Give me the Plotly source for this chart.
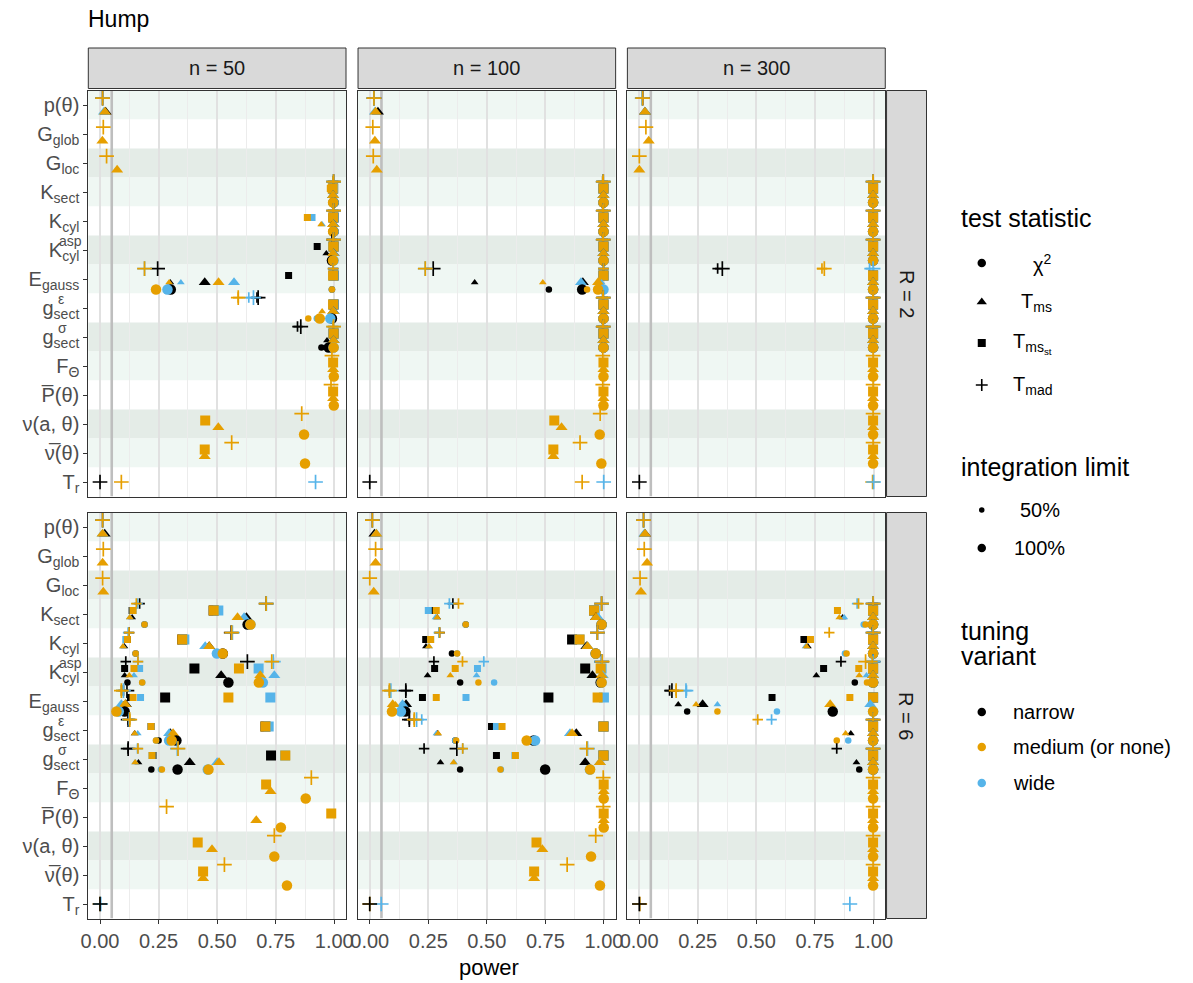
import plotly.graph_objects as go

W, H = 1193, 983
_ = None

# ---- categories -------------------------------------------------------------
STATS = ["p", "Gglob", "Gloc", "Ksect", "Kcyl", "Kasp", "Egauss",
         "geps", "gsig", "F", "Pbar", "nu", "nubar", "Tr"]
STAT_TICKTEXT = ["p(θ)", "G<sub>glob</sub>", "G<sub>loc</sub>", "K<sub>sect</sub>",
                 "K<sub>cyl</sub>", "K<sub>cyl</sub>", "E<sub>gauss</sub>",
                 "g<sub>sect</sub>", "g<sub>sect</sub>", "F<sub>Θ</sub>",
                 "P\u0305(θ)", "ν(a, θ)", "ν\u0305(θ)", "T<sub>r</sub>"]
# superscripts stacked over the subscripts: text, x position (px), anchor
STAT_SUPER = {"Kasp": ("asp", 77, "right"), "geps": ("ε", 49, "left"),
              "gsig": ("σ", 49, "left")}

TESTS_TOP_TO_BOTTOM = ["Tmad", "Tmsst", "Tms", "chi2"]
TEST_SYMBOL = {"chi2": "circle", "Tms": "triangle-up", "Tmsst": "square", "Tmad": "cross-thin"}
TUNING_COLOR = {"narrow": "#000000", "medium": "#E69F00", "wide": "#56B4E9"}
N_VALUES = [50, 100, 300]
R_VALUES = [2, 6]

# ---- power values -----------------------------------------------------------
# columns: stat, test, narrow/medium/wide at 50 %, narrow/medium/wide at 100 %
R2_N50 = [
    ("p", "Tmad", _, _, _, .011, .011, .011),
    ("p", "Tms", _, _, _, .024, .021, .017),
    ("Gglob", "Tmad", _, _, _, _, .014, _),
    ("Gglob", "Tms", _, _, _, _, .010, _),
    ("Gloc", "Tmad", _, _, _, _, .028, _),
    ("Gloc", "Tms", _, _, _, _, .073, _),
    ("Ksect", "Tmad", .995, .995, .995, .997, .997, .997),
    ("Ksect", "Tmsst", .985, .983, .990, .995, .993, .995),
    ("Ksect", "Tms", .990, .990, .990, .995, .995, .995),
    ("Ksect", "chi2", .990, .990, .990, .997, .995, .997),
    ("Kcyl", "Tmad", .995, .995, .995, .997, .997, .997),
    ("Kcyl", "Tmsst", .990, .885, .905, .997, .995, .997),
    ("Kcyl", "Tms", .990, .944, .948, .997, .995, .997),
    ("Kcyl", "chi2", .990, .990, .990, .997, .995, .997),
    ("Kasp", "Tmad", .990, .995, .995, .997, .997, .997),
    ("Kasp", "Tmsst", .927, .990, .990, .997, .997, .997),
    ("Kasp", "Tms", .966, .990, .990, .997, .995, .997),
    ("Kasp", "chi2", .985, .990, .990, .990, .995, .997),
    ("Egauss", "Tmad", .995, .995, .995, .246, .190, .190),
    ("Egauss", "Tmsst", .805, .995, .995, .997, .995, .997),
    ("Egauss", "Tms", .300, .295, .345, .447, .506, .572),
    ("Egauss", "chi2", .990, .990, .990, .302, .239, .288),
    ("geps", "Tmad", .670, .590, .635, .675, .590, .655),
    ("geps", "Tmsst", .995, .995, .995, .997, .995, .997),
    ("geps", "Tms", .990, .948, .990, .997, .995, .997),
    ("geps", "chi2", .990, .889, .925, .990, .938, .983),
    ("gsig", "Tmad", .843, .995, .995, .857, .997, .997),
    ("gsig", "Tmsst", .995, .995, .995, .997, .997, .997),
    ("gsig", "Tms", .969, .995, .995, .997, .997, .997),
    ("gsig", "chi2", .945, .995, .995, .976, .997, .997),
    ("F", "Tmad", _, _, _, _, .990, _),
    ("F", "Tmsst", _, _, _, _, .995, _),
    ("F", "Tms", _, _, _, _, .995, _),
    ("F", "chi2", _, _, _, _, .998, _),
    ("Pbar", "Tmad", _, _, _, _, .986, _),
    ("Pbar", "Tmsst", _, _, _, _, .995, _),
    ("Pbar", "Tms", _, _, _, _, .995, _),
    ("Pbar", "chi2", _, _, _, _, .998, _),
    ("nu", "Tmad", _, _, _, _, .861, _),
    ("nu", "Tmsst", _, _, _, _, .449, _),
    ("nu", "Tms", _, _, _, _, .505, _),
    ("nu", "chi2", _, _, _, _, .871, _),
    ("nubar", "Tmad", _, _, _, _, .562, _),
    ("nubar", "Tmsst", _, _, _, _, .447, _),
    ("nubar", "Tms", _, _, _, _, .447, _),
    ("nubar", "chi2", _, _, _, _, .875, _),
    ("Tr", "Tmad", _, _, _, .000, .091, .920),
]

R2_N100 = [
    ("p", "Tmad", _, _, _, .018, .018, .018),
    ("p", "Tms", _, _, _, .035, .025, .022),
    ("Gglob", "Tmad", _, _, _, _, .013, _),
    ("Gglob", "Tms", _, _, _, _, .022, _),
    ("Gloc", "Tmad", _, _, _, _, .015, _),
    ("Gloc", "Tms", _, _, _, _, .030, _),
    ("Ksect", "Tmad", .995, .995, .995, .997, .997, .997),
    ("Ksect", "Tmsst", .998, .998, .998, .998, .998, .998),
    ("Ksect", "Tms", .998, .998, .998, .998, .998, .998),
    ("Ksect", "chi2", .998, .998, .998, .998, .998, .998),
    ("Kcyl", "Tmad", .995, .995, .995, .997, .997, .997),
    ("Kcyl", "Tmsst", .998, .998, .998, .998, .998, .998),
    ("Kcyl", "Tms", .998, .998, .998, .998, .998, .998),
    ("Kcyl", "chi2", .998, .998, .998, .998, .998, .998),
    ("Kasp", "Tmad", .995, .995, .995, .997, .997, .997),
    ("Kasp", "Tmsst", .998, .998, .998, .998, .998, .998),
    ("Kasp", "Tms", .998, .998, .998, .998, .998, .998),
    ("Kasp", "chi2", .998, .998, .998, .998, .998, .998),
    ("Egauss", "Tmad", .998, .998, .998, .271, .237, .237),
    ("Egauss", "Tmsst", .998, .998, .998, .998, .998, .998),
    ("Egauss", "Tms", .448, .739, .990, .910, .975, .902),
    ("Egauss", "chi2", .765, .928, .990, .907, .975, .998),
    ("geps", "Tmad", .995, .995, .995, .997, .997, .997),
    ("geps", "Tmsst", .998, .998, .998, .998, .998, .998),
    ("geps", "Tms", .998, .998, .998, .998, .998, .998),
    ("geps", "chi2", .998, .998, .998, .998, .998, .998),
    ("gsig", "Tmad", .995, .995, .995, .997, .997, .997),
    ("gsig", "Tmsst", .998, .998, .998, .998, .998, .998),
    ("gsig", "Tms", .998, .998, .998, .998, .998, .998),
    ("gsig", "chi2", .998, .998, .998, .998, .998, .998),
    ("F", "Tmad", _, _, _, _, .995, _),
    ("F", "Tmsst", _, _, _, _, .998, _),
    ("F", "Tms", _, _, _, _, .998, _),
    ("F", "chi2", _, _, _, _, .998, _),
    ("Pbar", "Tmad", _, _, _, _, .995, _),
    ("Pbar", "Tmsst", _, _, _, _, .998, _),
    ("Pbar", "Tms", _, _, _, _, .998, _),
    ("Pbar", "chi2", _, _, _, _, .998, _),
    ("nu", "Tmad", _, _, _, _, .984, _),
    ("nu", "Tmsst", _, _, _, _, .788, _),
    ("nu", "Tms", _, _, _, _, .819, _),
    ("nu", "chi2", _, _, _, _, .982, _),
    ("nubar", "Tmad", _, _, _, _, .898, _),
    ("nubar", "Tmsst", _, _, _, _, .784, _),
    ("nubar", "Tms", _, _, _, _, .784, _),
    ("nubar", "chi2", _, _, _, _, .989, _),
    ("Tr", "Tmad", _, _, _, .000, .907, .999),
]

R2_N300 = [
    ("p", "Tmad", _, _, _, .015, .015, .013),
    ("p", "Tms", _, _, _, .025, .025, .025),
    ("Gglob", "Tmad", _, _, _, _, .029, _),
    ("Gglob", "Tms", _, _, _, _, .041, _),
    ("Gloc", "Tmad", _, _, _, _, .001, _),
    ("Gloc", "Tms", _, _, _, _, .001, _),
    ("Ksect", "Tmad", .998, .998, .998, .998, .998, .998),
    ("Ksect", "Tmsst", .998, .998, .998, .998, .998, .998),
    ("Ksect", "Tms", .998, .998, .998, .998, .998, .998),
    ("Ksect", "chi2", .998, .998, .998, .998, .998, .998),
    ("Kcyl", "Tmad", .998, .998, .998, .998, .998, .998),
    ("Kcyl", "Tmsst", .998, .998, .998, .998, .998, .998),
    ("Kcyl", "Tms", .998, .998, .998, .998, .998, .998),
    ("Kcyl", "chi2", .998, .998, .998, .998, .998, .998),
    ("Kasp", "Tmad", .998, .998, .998, .998, .998, .998),
    ("Kasp", "Tmsst", .998, .998, .998, .998, .998, .998),
    ("Kasp", "Tms", .998, .998, .998, .998, .998, .998),
    ("Kasp", "chi2", .998, .998, .998, .998, .998, .998),
    ("Egauss", "Tmad", .335, .780, .983, .355, .790, .998),
    ("Egauss", "Tmsst", .998, .998, .998, .998, .998, .998),
    ("Egauss", "Tms", .998, .998, .998, .998, .998, .998),
    ("Egauss", "chi2", .998, .998, .998, .998, .998, .998),
    ("geps", "Tmad", .998, .998, .998, .998, .998, .998),
    ("geps", "Tmsst", .998, .998, .998, .998, .998, .998),
    ("geps", "Tms", .998, .998, .998, .998, .998, .998),
    ("geps", "chi2", .998, .998, .998, .998, .998, .998),
    ("gsig", "Tmad", .998, .998, .998, .998, .998, .998),
    ("gsig", "Tmsst", .998, .998, .998, .998, .998, .998),
    ("gsig", "Tms", .998, .998, .998, .998, .998, .998),
    ("gsig", "chi2", .998, .998, .998, .998, .998, .998),
    ("F", "Tmad", _, _, _, _, .998, _),
    ("F", "Tmsst", _, _, _, _, .998, _),
    ("F", "Tms", _, _, _, _, .998, _),
    ("F", "chi2", _, _, _, _, .998, _),
    ("Pbar", "Tmad", _, _, _, _, .998, _),
    ("Pbar", "Tmsst", _, _, _, _, .998, _),
    ("Pbar", "Tms", _, _, _, _, .998, _),
    ("Pbar", "chi2", _, _, _, _, .998, _),
    ("nu", "Tmad", _, _, _, _, .998, _),
    ("nu", "Tmsst", _, _, _, _, .998, _),
    ("nu", "Tms", _, _, _, _, .998, _),
    ("nu", "chi2", _, _, _, _, .998, _),
    ("nubar", "Tmad", _, _, _, _, .998, _),
    ("nubar", "Tmsst", _, _, _, _, .998, _),
    ("nubar", "Tms", _, _, _, _, .998, _),
    ("nubar", "chi2", _, _, _, _, .998, _),
    ("Tr", "Tmad", _, _, _, .001, .996, 1.00),
]

R6_N50 = [
    ("p", "Tmad", _, _, _, .011, .011, .011),
    ("p", "Tms", _, _, _, .020, .011, .011),
    ("Gglob", "Tmad", _, _, _, _, .014, _),
    ("Gglob", "Tms", _, _, _, _, .011, _),
    ("Gloc", "Tmad", _, _, _, _, .011, _),
    ("Gloc", "Tms", _, _, _, _, .014, _),
    ("Ksect", "Tmad", .169, .155, .160, .709, .709, .710),
    ("Ksect", "Tmsst", .137, .141, .141, .485, .485, .505),
    ("Ksect", "Tms", .137, .127, .127, .625, .587, .615),
    ("Ksect", "chi2", .190, .190, .190, .630, .642, .642),
    ("Kcyl", "Tmad", .124, .124, .120, .560, .562, .565),
    ("Kcyl", "Tmsst", .117, .117, .110, .351, .351, .360),
    ("Kcyl", "Tms", .104, .098, .098, .466, .466, .449),
    ("Kcyl", "chi2", .152, .152, .152, .524, .524, .499),
    ("Kasp", "Tmad", .110, .162, .162, .629, .733, .740),
    ("Kasp", "Tmsst", .105, .145, .169, .403, .593, .677),
    ("Kasp", "Tms", .105, .125, .145, .517, .684, .744),
    ("Kasp", "chi2", .117, .180, .180, .548, .678, .695),
    ("Egauss", "Tmad", .100, .091, .091, .115, .091, .100),
    ("Egauss", "Tmsst", .130, .141, .173, .278, .548, .727),
    ("Egauss", "Tms", .100, .100, .090, .110, .108, .091),
    ("Egauss", "chi2", .105, .070, .080, .105, .070, .080),
    ("geps", "Tmad", .120, .127, .125, .120, .127, .125),
    ("geps", "Tmsst", .218, .218, .218, .706, .706, .720),
    ("geps", "Tms", .148, .148, .161, .300, .312, .295),
    ("geps", "chi2", .250, .239, .239, .326, .306, .295),
    ("gsig", "Tmad", .120, .162, .160, .120, .333, .330),
    ("gsig", "Tmsst", .226, .222, .222, .730, .791, .790),
    ("gsig", "Tms", .164, .150, .150, .383, .508, .500),
    ("gsig", "chi2", .219, .264, .260, .331, .463, .460),
    ("F", "Tmad", _, _, _, _, .902, _),
    ("F", "Tmsst", _, _, _, _, .709, _),
    ("F", "Tms", _, _, _, _, .728, _),
    ("F", "chi2", _, _, _, _, .878, _),
    ("Pbar", "Tmad", _, _, _, _, .284, _),
    ("Pbar", "Tmsst", _, _, _, _, .987, _),
    ("Pbar", "Tms", _, _, _, _, .667, _),
    ("Pbar", "chi2", _, _, _, _, .772, _),
    ("nu", "Tmad", _, _, _, _, .744, _),
    ("nu", "Tmsst", _, _, _, _, .417, _),
    ("nu", "Tms", _, _, _, _, .478, _),
    ("nu", "chi2", _, _, _, _, .744, _),
    ("nubar", "Tmad", _, _, _, _, .531, _),
    ("nubar", "Tmsst", _, _, _, _, .440, _),
    ("nubar", "Tms", _, _, _, _, .440, _),
    ("nubar", "chi2", _, _, _, _, .798, _),
    ("Tr", "Tmad", _, _, _, .000, .000, .003),
]

R6_N100 = [
    ("p", "Tmad", _, _, _, .011, .011, .011),
    ("p", "Tms", _, _, _, .020, .028, .028),
    ("Gglob", "Tmad", _, _, _, _, .025, _),
    ("Gglob", "Tms", _, _, _, _, .025, _),
    ("Gloc", "Tmad", _, _, _, _, .000, _),
    ("Gloc", "Tms", _, _, _, _, .017, _),
    ("Ksect", "Tmad", .355, .379, .340, .990, .990, .990),
    ("Ksect", "Tmsst", .267, .284, .250, .958, .958, .960),
    ("Ksect", "Tms", .288, .288, .281, .966, .966, .975),
    ("Ksect", "chi2", .410, .410, .410, .990, .990, .990),
    ("Kcyl", "Tmad", .298, .298, .295, .972, .972, .972),
    ("Kcyl", "Tmsst", .239, .260, .260, .864, .896, .896),
    ("Kcyl", "Tms", .240, .253, .253, .925, .930, .930),
    ("Kcyl", "chi2", .351, .373, .373, .965, .965, .965),
    ("Kasp", "Tmad", .274, .396, .487, .990, .993, .990),
    ("Kasp", "Tmsst", .277, .365, .460, .920, .986, .990),
    ("Kasp", "Tms", .247, .344, .456, .951, .990, .995),
    ("Kasp", "chi2", .386, .464, .531, .986, .990, .990),
    ("Egauss", "Tmad", .154, .084, .084, .154, .084, .090),
    ("Egauss", "Tmsst", .225, .284, .411, .763, .973, 1.00),
    ("Egauss", "Tms", .155, .110, .140, .155, .098, .140),
    ("Egauss", "chi2", .152, .095, .133, .152, .095, .133),
    ("geps", "Tmad", .169, .190, .222, .169, .190, .200),
    ("geps", "Tmsst", .520, .565, .541, .998, .998, .998),
    ("geps", "Tms", .290, .292, .285, .882, .864, .855),
    ("geps", "chi2", .365, .369, .365, .700, .670, .706),
    ("gsig", "Tmad", .232, .397, .397, .372, .927, .930),
    ("gsig", "Tmsst", .541, .622, .620, .998, .998, .998),
    ("gsig", "Tms", .302, .358, .360, .920, .983, .983),
    ("gsig", "chi2", .386, .558, .560, .749, .941, .940),
    ("F", "Tmad", _, _, _, _, .997, _),
    ("F", "Tmsst", _, _, _, _, .999, _),
    ("F", "Tms", _, _, _, _, .999, _),
    ("F", "chi2", _, _, _, _, .999, _),
    ("Pbar", "Tmad", _, _, _, _, .997, _),
    ("Pbar", "Tmsst", _, _, _, _, .999, _),
    ("Pbar", "Tms", _, _, _, _, .999, _),
    ("Pbar", "chi2", _, _, _, _, .999, _),
    ("nu", "Tmad", _, _, _, _, .965, _),
    ("nu", "Tmsst", _, _, _, _, .712, _),
    ("nu", "Tms", _, _, _, _, .737, _),
    ("nu", "chi2", _, _, _, _, .945, _),
    ("nubar", "Tmad", _, _, _, _, .843, _),
    ("nubar", "Tmsst", _, _, _, _, .702, _),
    ("nubar", "Tms", _, _, _, _, .702, _),
    ("nubar", "chi2", _, _, _, _, .983, _),
    ("Tr", "Tmad", _, _, _, .000, .000, .049),
]

R6_N300 = [
    ("p", "Tmad", _, _, _, .019, .019, .019),
    ("p", "Tms", _, _, _, .025, .025, .022),
    ("Gglob", "Tmad", _, _, _, _, .022, _),
    ("Gglob", "Tms", _, _, _, _, .034, _),
    ("Gloc", "Tmad", _, _, _, _, .004, _),
    ("Gloc", "Tms", _, _, _, _, .008, _),
    ("Ksect", "Tmad", .998, .936, .930, .998, .998, .998),
    ("Ksect", "Tmsst", .995, .846, .995, .998, .998, .998),
    ("Ksect", "Tms", .868, .854, .875, .998, .998, .998),
    ("Ksect", "chi2", .995, .966, .958, .998, .998, .998),
    ("Kcyl", "Tmad", .995, .811, .995, .998, .998, .998),
    ("Kcyl", "Tmsst", .703, .731, .995, .998, .998, .998),
    ("Kcyl", "Tms", .720, .714, .710, .998, .998, .998),
    ("Kcyl", "chi2", .995, .885, .878, .998, .998, .998),
    ("Kasp", "Tmad", .861, .995, .995, .998, .966, .998),
    ("Kasp", "Tmsst", .787, .937, .995, .998, .998, .998),
    ("Kasp", "Tms", .756, .939, .970, .998, .998, .998),
    ("Kasp", "chi2", .920, .972, .995, .998, .998, .998),
    ("Egauss", "Tmad", .130, .158, .202, .140, .158, .200),
    ("Egauss", "Tmsst", .567, .899, .995, .998, .998, .998),
    ("Egauss", "Tms", .167, .243, .334, .271, .815, .986),
    ("Egauss", "chi2", .205, .334, .588, .826, .998, .998),
    ("geps", "Tmad", .998, .506, .565, .998, .998, .998),
    ("geps", "Tmsst", .998, .998, .998, .998, .998, .998),
    ("geps", "Tms", .903, .881, .998, .998, .998, .998),
    ("geps", "chi2", .998, .843, .892, .998, .998, .998),
    ("gsig", "Tmad", .843, .998, .998, .998, .998, .998),
    ("gsig", "Tmsst", .998, .998, .998, .998, .998, .998),
    ("gsig", "Tms", .927, .998, .998, .998, .998, .998),
    ("gsig", "chi2", .939, .998, .998, .998, .998, .998),
    ("F", "Tmad", _, _, _, _, .998, _),
    ("F", "Tmsst", _, _, _, _, .998, _),
    ("F", "Tms", _, _, _, _, .998, _),
    ("F", "chi2", _, _, _, _, .998, _),
    ("Pbar", "Tmad", _, _, _, _, .998, _),
    ("Pbar", "Tmsst", _, _, _, _, .998, _),
    ("Pbar", "Tms", _, _, _, _, .998, _),
    ("Pbar", "chi2", _, _, _, _, .998, _),
    ("nu", "Tmad", _, _, _, _, .998, _),
    ("nu", "Tmsst", _, _, _, _, .998, _),
    ("nu", "Tms", _, _, _, _, .998, _),
    ("nu", "chi2", _, _, _, _, .998, _),
    ("nubar", "Tmad", _, _, _, _, .998, _),
    ("nubar", "Tmsst", _, _, _, _, .998, _),
    ("nubar", "Tms", _, _, _, _, .998, _),
    ("nubar", "chi2", _, _, _, _, .998, _),
    ("Tr", "Tmad", _, _, _, .001, .003, .899),
]

PANELS = {(2, 50): R2_N50, (2, 100): R2_N100, (2, 300): R2_N300,
          (6, 50): R6_N50, (6, 100): R6_N100, (6, 300): R6_N300}

# ---- styling ----------------------------------------------------------------
FONT = "Liberation Sans, Arial, sans-serif"
TICK_SIZE = 20
STRIP_SIZE = 20
MARKER_SIZE = {("chi2", 50): 6.5, ("chi2", 100): 10.5,
               ("Tms", 50): 6.8, ("Tms", 100): 10.5,
               ("Tmsst", 50): 7, ("Tmsst", 100): 10,
               ("Tmad", 50): 7.5, ("Tmad", 100): 10.5}
BAND_COLORS = ["#EFF7F3", "#FFFFFF", "#E4ECE7"]
DODGE_WIDTH = 0.96
ALPHA_LINE = 0.05
CLEAR = "rgba(0,0,0,0)"

# value columns in drawing order (later ones sit on top)
COLS = {("narrow", 50): 2, ("medium", 50): 3, ("wide", 50): 4,
        ("narrow", 100): 5, ("medium", 100): 6, ("wide", 100): 7}
DRAW_ORDER = [("narrow", 50), ("narrow", 100), ("wide", 50), ("wide", 100),
              ("medium", 50), ("medium", 100)]
DRAW_ORDER_TR = [("medium", 100), ("wide", 100), ("narrow", 100)]

# panel geometry in pixels
COL_X = [(81.4, 342.6), (354.8, 615.9), (627.8, 889.2)]
ROW_Y = [(90.5, 496.5), (512.5, 918.5)]
STRIP_TOP = (48, 88.5)
STRIP_RIGHT = (890.5, 931)


def px(x):
    return x / W


def py(y):
    return 1 - y / H


fig = go.Figure()
shapes, annotations = [], []
layout_axes = {}

for ri, R in enumerate(R_VALUES):
    for ci, n in enumerate(N_VALUES):
        k = ri * 3 + ci + 1
        xa = "x" if k == 1 else f"x{k}"
        ya = "y" if k == 1 else f"y{k}"
        rows = PANELS[(R, n)]

        # nominal level line, under the points
        fig.add_trace(go.Scatter(
            x=[ALPHA_LINE, ALPHA_LINE], y=[0.5, 14.5], mode="lines", xaxis=xa, yaxis=ya,
            line=dict(color="#BEBEBE", width=2.6), showlegend=False, hoverinfo="skip"))

        # which tests appear in each row decides the vertical dodge
        present = {}
        for r in rows:
            present.setdefault(r[0], set()).add(r[1])

        xs, ys, syms, sizes, cols, lws = [], [], [], [], [], []
        for r in rows:
            stat, test = r[0], r[1]
            tests_here = [t for t in TESTS_TOP_TO_BOTTOM if t in present[stat]]
            m = len(tests_here)
            j = tests_here.index(test)
            y = STATS.index(stat) + 1 + (j - (m - 1) / 2) * DODGE_WIDTH / m
            order = DRAW_ORDER_TR if stat == "Tr" else DRAW_ORDER
            for tuning, lim in order:
                v = r[COLS[(tuning, lim)]]
                if v is None:
                    continue
                xs.append(v)
                ys.append(y)
                syms.append(TEST_SYMBOL[test])
                sizes.append(MARKER_SIZE[(test, lim)])
                cols.append(TUNING_COLOR[tuning])
                lws.append(1.7 if test == "Tmad" else 0)

        fig.add_trace(go.Scatter(
            x=xs, y=ys, mode="markers", xaxis=xa, yaxis=ya,
            marker=dict(symbol=syms, size=sizes, color=cols,
                        line=dict(color=cols, width=lws), opacity=1),
            showlegend=False, hoverinfo="x"))

        x0, x1 = COL_X[ci]
        y0, y1 = ROW_Y[ri]
        common = dict(showline=True, mirror=True, linecolor="#333333", linewidth=1,
                      zeroline=False, ticks="outside", tickwidth=1, tickcolor="#333333",
                      tickfont=dict(family=FONT, size=TICK_SIZE, color="#4D4D4D"))
        layout_axes["xaxis" if k == 1 else f"xaxis{k}"] = dict(
            domain=[px(x0), px(x1)], anchor=ya, range=[-0.05, 1.05],
            tickvals=[0, 0.25, 0.5, 0.75, 1.0],
            ticktext=["0.00", "0.25", "0.50", "0.75", "1.00"],
            showticklabels=(ri == 1), ticklen=4 if ri == 1 else 0,
            showgrid=True, gridcolor="#E1E1E1", gridwidth=1.6,
            minor=dict(tickvals=[0.125, 0.375, 0.625, 0.875], showgrid=True,
                       gridcolor="#ECECEC", gridwidth=0.8),
            **common)
        layout_axes["yaxis" if k == 1 else f"yaxis{k}"] = dict(
            domain=[py(y1), py(y0)], anchor=xa, range=[14.5, 0.5],
            tickvals=list(range(1, 15)), ticktext=STAT_TICKTEXT,
            showticklabels=(ci == 0), ticklen=4 if ci == 0 else 0,
            showgrid=False, **common)

        # horizontal bands behind each statistic
        for i in range(len(STATS)):
            shapes.append(dict(type="rect", xref=f"{xa} domain", yref=ya,
                               x0=0, x1=1, y0=i + 0.5, y1=i + 1.5,
                               fillcolor=BAND_COLORS[i % 3], line=dict(width=0),
                               layer="below"))

        # stacked superscripts on the left tick labels
        if ci == 0:
            for key, (sup, sx, anchor) in STAT_SUPER.items():
                annotations.append(dict(
                    text=sup, xref="paper", yref=ya, x=px(sx), y=STATS.index(key) + 1,
                    yshift=9, xanchor=anchor, yanchor="middle", showarrow=False,
                    font=dict(family=FONT, size=round(TICK_SIZE * 0.7), color="#4D4D4D")))


def paper_text(text, x, y, size, color="#000000", xanchor="center", angle=0):
    annotations.append(dict(text=text, xref="paper", yref="paper", x=px(x), y=py(y),
                            xanchor=xanchor, yanchor="middle", textangle=angle,
                            showarrow=False, font=dict(family=FONT, size=size, color=color)))


# facet strips
for ci, n in enumerate(N_VALUES):
    x0, x1 = COL_X[ci]
    shapes.append(dict(type="rect", xref="paper", yref="paper",
                       x0=px(x0), x1=px(x1), y0=py(STRIP_TOP[1]), y1=py(STRIP_TOP[0]),
                       fillcolor="#D9D9D9", line=dict(color="#333333", width=1)))
    paper_text(f"n = {n}", (x0 + x1) / 2, sum(STRIP_TOP) / 2, STRIP_SIZE, "#1A1A1A")
for ri, R in enumerate(R_VALUES):
    y0, y1 = ROW_Y[ri]
    shapes.append(dict(type="rect", xref="paper", yref="paper",
                       x0=px(STRIP_RIGHT[0]), x1=px(STRIP_RIGHT[1]), y0=py(y1), y1=py(y0),
                       fillcolor="#D9D9D9", line=dict(color="#333333", width=1)))
    paper_text(f"R = {R}", sum(STRIP_RIGHT) / 2, (y0 + y1) / 2, STRIP_SIZE, "#1A1A1A",
               angle=90)

# titles
paper_text("Hump", 79, 19, 23, xanchor="left")
paper_text("power", 488, 967, 22)

# ---- legends (drawn on a pixel-scaled overlay axis) -------------------------
LEG_KEY_X = 987
LEG_TEXT = 20
LEG_TITLE = 25
leg_x, leg_y, leg_sym, leg_size, leg_col, leg_lw = [], [], [], [], [], []


def leg_key(y, sym, size, col, lw=0):
    leg_x.append(LEG_KEY_X)
    leg_y.append(y)
    leg_sym.append(sym)
    leg_size.append(size)
    leg_col.append(col)
    leg_lw.append(lw)


def leg_text(text, x, y, anchor="left", size=LEG_TEXT):
    annotations.append(dict(text=text, xref="x7", yref="y7", x=x, y=y, xanchor=anchor,
                            yanchor="middle", showarrow=False,
                            font=dict(family=FONT, size=size, color="#000000")))


leg_text("test statistic", 964, 218, size=LEG_TITLE)
for y, sym, lab, size, lw in [(263, "circle", "χ<sup>2</sup>", 8.5, 0),
                              (302, "triangle-up", "T<sub>ms</sub>", 9, 0),
                              (343, "square", "T<sub>ms<sub>st</sub></sub>", 8, 0),
                              (385, "cross-thin", "T<sub>mad</sub>", 8.5, 1.6)]:
    leg_key(y, sym, size, "#000000", lw)
    leg_text(lab, 1060, y, anchor="right")

leg_text("integration limit", 964, 467, size=LEG_TITLE)
leg_key(510, "circle", 5.5, "#000000")
leg_key(548, "circle", 8.5, "#000000")
leg_text("50%", 1046, 510, anchor="center")
leg_text("100%", 1046, 548, anchor="center")

leg_text("tuning", 964, 631, size=LEG_TITLE)
leg_text("variant", 964, 656, size=LEG_TITLE)
for y, name, lab in [(712, "narrow", "narrow"), (747, "medium", "medium (or none)"),
                     (783, "wide", "wide")]:
    leg_key(y, "circle", 8.5, TUNING_COLOR[name])
    leg_text(lab, 1017, y)

fig.add_trace(go.Scatter(
    x=leg_x, y=leg_y, mode="markers", xaxis="x7", yaxis="y7",
    marker=dict(symbol=leg_sym, size=leg_size, color=leg_col, opacity=1,
                line=dict(color=leg_col, width=leg_lw)),
    showlegend=False, hoverinfo="skip"))

fig.update_layout(
    xaxis7=dict(domain=[0, 1], range=[0, W], visible=False, anchor="y7"),
    yaxis7=dict(domain=[0, 1], range=[H, 0], visible=False, anchor="x7"),
    width=W, height=H, autosize=False,
    margin=dict(l=0, r=0, t=0, b=0),
    paper_bgcolor="#FFFFFF", plot_bgcolor=CLEAR,
    shapes=shapes, annotations=annotations, showlegend=False,
    font=dict(family=FONT),
    **layout_axes,
)

fig.write_html("out.html")
